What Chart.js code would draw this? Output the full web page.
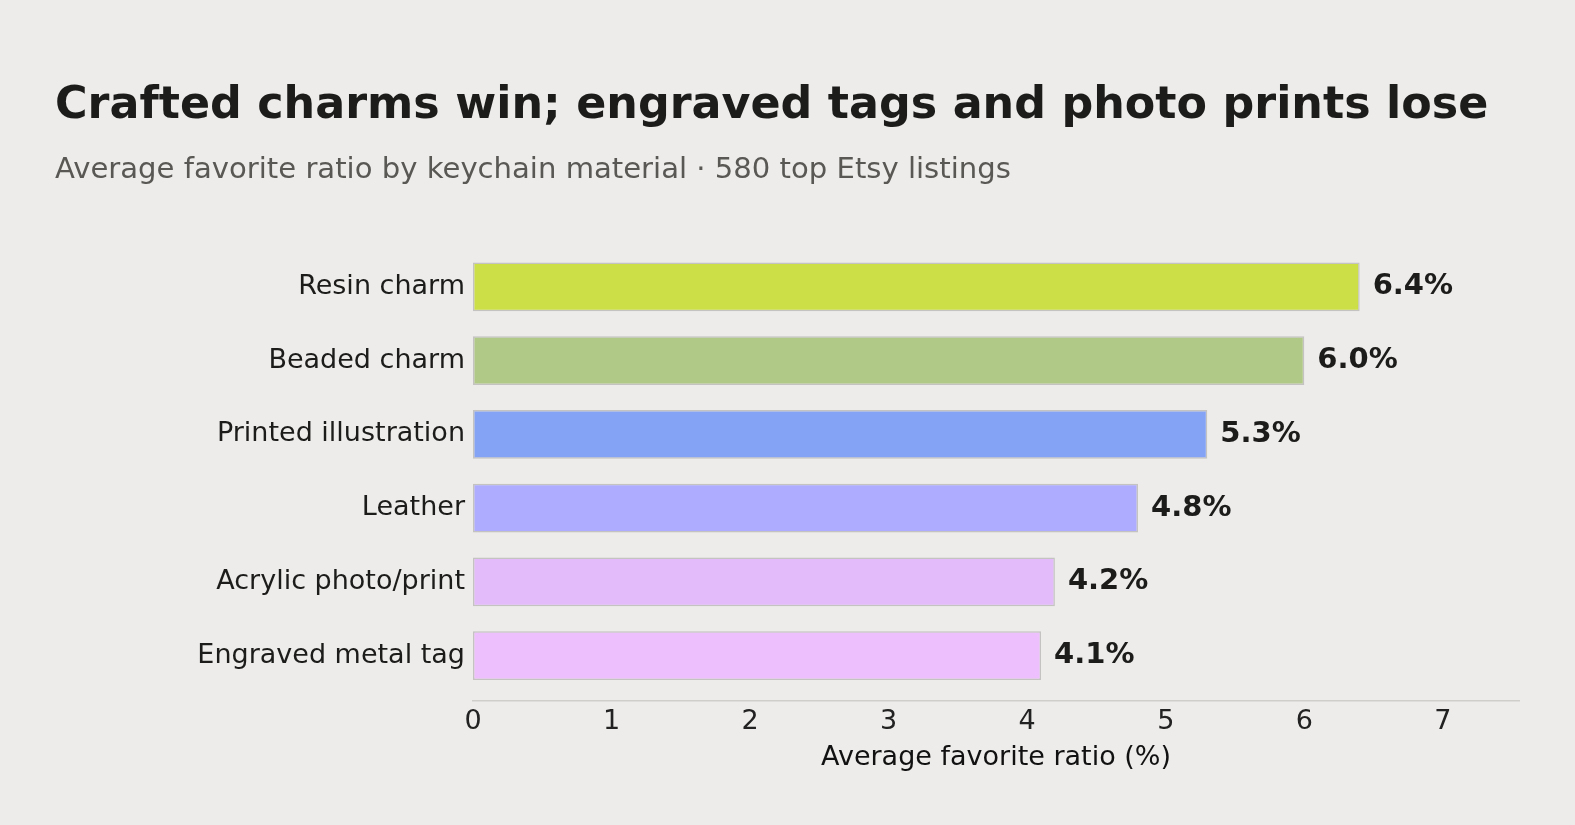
<!DOCTYPE html>
<html>
<head>
<meta charset="utf-8">
<script src="https://cdn.jsdelivr.net/npm/chart.js@4/dist/chart.umd.min.js"></script>
<style>
  html, body { margin: 0; padding: 0; background: #edecea; overflow: hidden; }
  #wrap { width: 1575px; height: 825px; }
</style>
</head>
<body>
<div id="wrap"><canvas id="favChart"></canvas></div>
<script>
      // chart data
      const materials = ["Resin charm", "Beaded charm", "Printed illustration", "Leather", "Acrylic photo/print", "Engraved metal tag"];
      const favoriteRatio = [6.4, 6.0, 5.3, 4.8, 4.2, 4.1];
      const barColors = ["#cddf47", "#b0c987", "#85a3f5", "#adacfe", "#e3bbfb", "#eebffd"];
      const xTicks = [0, 1, 2, 3, 4, 5, 6, 7];

      const titleText = "Crafted charms win; engraved tags and photo prints lose";
      const subtitleText = "Average favorite ratio by keychain material \u00b7 580 top Etsy listings";

      const FONT = "'DejaVu Sans', sans-serif";

      // Draws the title block at the top left
      const headerPlugin = {
        id: "header",
        afterDraw(chart) {
          const c = chart.ctx;
          c.save();
          c.textAlign = "left";
          c.textBaseline = "alphabetic";
          c.fillStyle = "#1c1c1a";
          c.font = "bold 44.4px " + FONT;
          c.fillText(titleText, 55, 118);
          c.fillStyle = "#595855";
          c.font = "29.1px " + FONT;
          c.fillText(subtitleText, 55, 178);
          c.restore();
        }
      };

      // Writes the value at the end of each bar
      const valueLabels = {
        id: "valueLabels",
        afterDatasetsDraw(chart) {
          const c = chart.ctx;
          const meta = chart.getDatasetMeta(0);
          c.save();
          c.font = "bold 29px " + FONT;
          c.fillStyle = "#1c1c1a";
          c.textAlign = "left";
          c.textBaseline = "middle";
          meta.data.forEach((bar, i) => {
            c.fillText(favoriteRatio[i].toFixed(1) + "%", bar.x + 13, bar.y);
          });
          c.restore();
        }
      };

      const ctx = document.getElementById("favChart").getContext("2d");
      const chart = new Chart(ctx, {
        type: "bar",
        data: {
          datasets: [
            {
              data: favoriteRatio.map((v, i) => ({ x: v, y: i })),
              backgroundColor: barColors,
              borderColor: "rgba(120, 120, 120, 0.35)",
              borderWidth: 1.5,
              borderSkipped: false,
              barPercentage: 0.66,
              categoryPercentage: 1,
            },
          ],
        },
        options: {
          indexAxis: "y",
          responsive: true,
          maintainAspectRatio: false,
          animation: false,
          layout: { padding: { top: 250, left: 55, right: 56, bottom: 54 } },
          plugins: {
            legend: { display: false },
            tooltip: { enabled: false },
          },
          scales: {
            x: {
              type: "linear",
              min: 0,
              max: 7.55,
              offset: false,
              grid: { display: false, drawTicks: false },
              border: { display: true, color: "#cfcecb", width: 1.5 },
              afterBuildTicks: (scale) => {
                scale.ticks = xTicks.map((v) => ({ value: v }));
              },
              afterFit: (scale) => {
                scale.height = 70;
              },
              ticks: {
                padding: 5,
                color: "#222",
                font: { family: FONT, size: 27 },
              },
              title: {
                display: true,
                text: "Average favorite ratio (%)",
                color: "#111",
                padding: { top: 0, bottom: 0 },
                font: { family: FONT, size: 27, lineHeight: 1 },
              },
            },
            y: {
              type: "linear",
              reverse: true,
              offset: false,
              min: -0.5,
              max: 5.616,
              grid: { display: false, drawTicks: false },
              border: { display: false },
              afterBuildTicks: (scale) => {
                scale.ticks = materials.map((m, i) => ({ value: i }));
              },
              afterFit: (scale) => {
                scale.width = 473 - 55;
                scale.paddingTop = 0;
                scale.paddingBottom = 0;
              },
              ticks: {
                padding: 8,
                color: "#1c1c1a",
                font: { family: FONT, size: 27 },
                callback: (v) => materials[v],
              },
            },
          },
        },
        plugins: [headerPlugin, valueLabels],
      });
</script>
</body>
</html>
